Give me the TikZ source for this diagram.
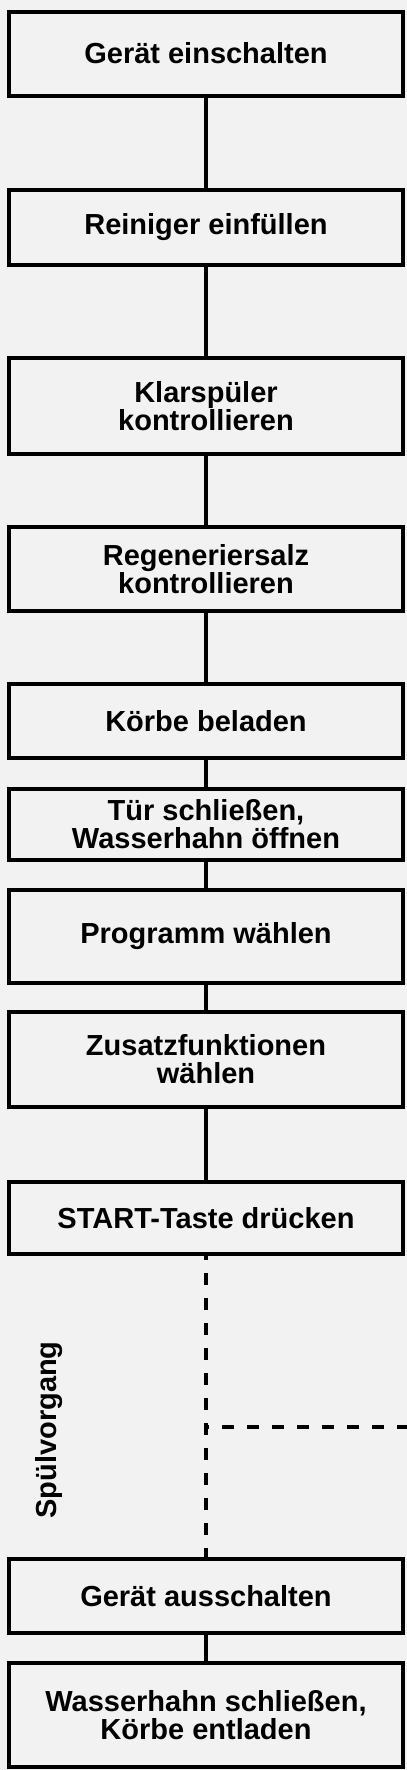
\documentclass[tikz,border=0pt]{standalone}
\usepackage{fontspec}
\setmainfont{Liberation Sans}
\usepackage{tikz}
\definecolor{bggray}{RGB}{242,242,242}

\begin{document}
\begin{tikzpicture}[x=1pt,y=-1pt,
  stepbox/.style={draw, line width=4pt, fill=bggray, minimum width=394pt, inner sep=0pt, align=center, font=\fontsize{29}{28}\selectfont\bfseries},
  link/.style={line width=3.4pt},
  dashlink/.style={line width=3.4pt, dash pattern=on 12pt off 13pt, dash phase=8pt}]
%background
\useasboundingbox (0,0) rectangle (407,1770);
\fill [bggray] (0,0) rectangle (407,1770);
%boxes
\node [stepbox, minimum height=84pt] (einschalten) at (206,53.6) {Gerät einschalten};
\node [stepbox, minimum height=75pt] (reiniger) at (206,227.5) {Reiniger einfüllen};
\node [stepbox, minimum height=96pt] (klarspueler) at (206,406) {Klarspüler\\kontrollieren};
\node [stepbox, minimum height=84pt] (salz) at (206,569) {Regeneriersalz\\kontrollieren};
\node [stepbox, minimum height=74pt] (beladen) at (206,721) {Körbe beladen};
\node [stepbox, minimum height=71pt] (tuer) at (206,824.5) {Tür schließen,\\Wasserhahn öffnen};
\node [stepbox, minimum height=93pt] (programm) at (206,936.5) {Programm wählen};
\node [stepbox, minimum height=95pt] (zusatz) at (206,1059.5) {Zusatzfunktionen\\wählen};
\node [stepbox, minimum height=72pt] (start) at (206,1218) {START-Taste drücken};
\node [stepbox, minimum height=74pt] (ausschalten) at (206,1596) {Gerät ausschalten};
\node [stepbox, minimum height=104pt] (entladen) at (206,1715) {Wasserhahn schließen,\\Körbe entladen};
%connectors
\draw [link] (einschalten) -- (reiniger);
\draw [link] (reiniger) -- (klarspueler);
\draw [link] (klarspueler) -- (salz);
\draw [link] (salz) -- (beladen);
\draw [link] (beladen) -- (tuer);
\draw [link] (tuer) -- (programm);
\draw [link] (programm) -- (zusatz);
\draw [link] (zusatz) -- (start);
\draw [link] (ausschalten) -- (entladen);
%washing cycle
\draw [dashlink] (start) -- (ausschalten);
\coordinate (abzweig) at (206,1427);
\coordinate (rand) at (407,1427);
\draw [dashlink, dash phase=9pt] (abzweig) -- (rand);
%labels
\node [rotate=90, inner sep=0pt, font=\fontsize{29}{28}\selectfont\bfseries] (spuelvorgang) at (49,1430) {Spülvorgang};
\end{tikzpicture}
\end{document}
